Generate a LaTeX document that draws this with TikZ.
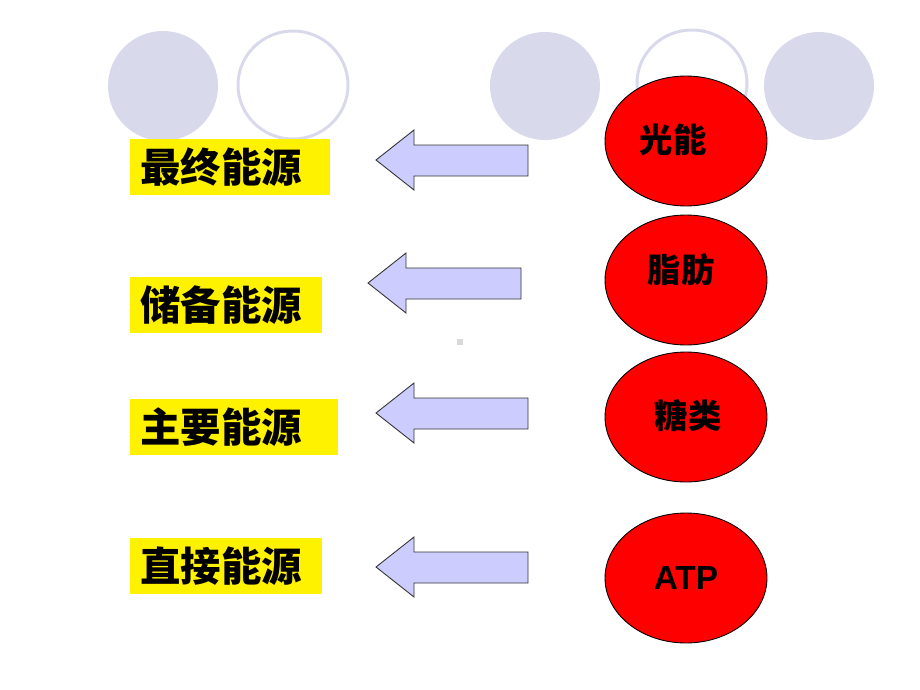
\documentclass[tikz,border=0pt]{standalone}
\usepackage{fontspec}
\usetikzlibrary{shapes.geometric}
\newfontfamily\cjk{Noto Sans CJK SC}
\newfontfamily\latin{Liberation Sans}
\definecolor{lavender}{HTML}{D9D9EC}
\definecolor{arrowBlue}{HTML}{CCCCFF}
\newcommand{\leftArrow}[3]{%%
  \draw[arrowStyle] (#1,#2) -- (#1+38,#2-30) -- (#1+38,#2-15) -- (#3,#2-15)%%
    -- (#3,#2+16) -- (#1+38,#2+16) -- (#1+38,#2+30) -- cycle;%%
}

\begin{document}
\begin{tikzpicture}[%%
  x=0.02cm, y=-0.02cm,%%
  dotFill/.style={fill=lavender, draw=none},%%
  dotRing/.style={draw=lavender, line width=1.7pt},%%
  arrowStyle/.style={fill=arrowBlue, draw=black!80, line width=0.5pt, line join=miter},%%
  labelBox/.style={fill=yellow, anchor=west, align=left, inner xsep=0.2cm,%%
    minimum height=1.12cm, text width=#1, font=\cjk\bfseries\fontsize{23}{23}\selectfont},%%
  energy/.style={ellipse, fill=red, draw=black, line width=0.5pt,%%
    minimum width=3.24cm, minimum height=2.6cm},%%
  energyText/.style={font=\cjk\bfseries\fontsize{19}{19}\selectfont, inner sep=0pt}%%
]
\useasboundingbox (0,0) rectangle (920,690);
%%
%% Decorative circles along the top.
\fill[dotFill] (163,86) circle [x radius=55, y radius=-55];
\draw[dotRing] (293,85) circle [x radius=55, y radius=-54];
\fill[dotFill] (545,86) circle [x radius=55, y radius=-54];
\draw[dotRing] (692,83) circle [x radius=55, y radius=-53];
\fill[dotFill] (819,86) circle [x radius=55, y radius=-54];
%%
%% Small mark in the middle.
\fill[black!15] (457,339) rectangle (463,345);
%%
%% Yellow labels on the left.
\node[labelBox=3.6cm]  (ultimate) at (130,167) {最终能源};
\node[labelBox=3.44cm] (reserve)  at (130,305) {储备能源};
\node[labelBox=3.76cm] (primary)  at (130,427) {主要能源};
\node[labelBox=3.44cm] (direct)   at (130,566) {直接能源};
%%
%% Block arrows pointing to the labels.
\leftArrow{376}{160}{528}
\leftArrow{368}{283}{521}
\leftArrow{376}{413}{528}
\leftArrow{376}{567}{528}
%%
%% Red ellipses on the right.
\node[energy] (light) at (686,141) {};
\node[energy] (fat)   at (686,280) {};
\node[energy] (sugar) at (686,417) {};
\node[energy] (atp)   at (686,578) {};
\node[energyText] (lightText) at (673,140) {光能};
\node[energyText] (fatText)   at (681,270) {脂肪};
\node[energyText] (sugarText) at (688,416) {糖类};
\node[energyText, font=\latin\bfseries\fontsize{19}{19}\selectfont] (atpText) at (686,578) {ATP};
\end{tikzpicture}
\end{document}
